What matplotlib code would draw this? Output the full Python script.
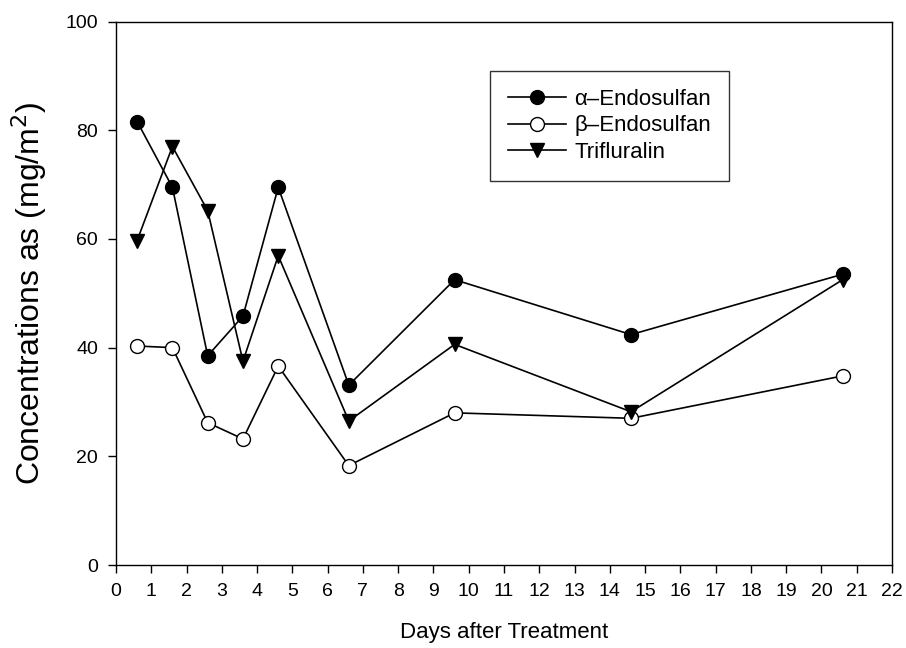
import numpy as np
import matplotlib
matplotlib.use("Agg")
import matplotlib.pyplot as plt

plt.rcParams['font.family'] = ['Liberation Sans', 'DejaVu Sans']

# Données
days = [0.6, 1.6, 2.6, 3.6, 4.6, 6.6, 9.6, 14.6, 20.6]
alpha_endosulfan = [81.6, 69.5, 38.5, 45.8, 69.5, 33.1, 52.5, 42.4, 53.5]
beta_endosulfan = [40.3, 40.0, 26.2, 23.2, 36.6, 18.3, 28.0, 27.0, 34.8]
trifluralin = [59.7, 77.0, 65.2, 37.5, 56.9, 26.5, 40.6, 28.2, 52.5]

x_ticks = list(range(0, 23))
y_ticks = [0, 20, 40, 60, 80, 100]

fig = plt.figure(figsize=(9.06, 6.48), dpi=100)
ax = fig.add_axes([0.128, 0.128, 0.8566, 0.8388])

ax.plot(days, alpha_endosulfan, color='black', lw=1.2, marker='o', ms=10,
        mfc='black', mec='black', label='\u03b1\u2013Endosulfan')
ax.plot(days, beta_endosulfan, color='black', lw=1.2, marker='o', ms=10,
        mfc='white', mec='black', mew=1.0, label='\u03b2\u2013Endosulfan')
ax.plot(days, trifluralin, color='black', lw=1.2, marker='v', ms=10,
        mfc='black', mec='black', label='Trifluralin')

ax.set_xlim(0, 22)
ax.set_ylim(0, 100)
ax.set_xticks(x_ticks)
ax.set_yticks(y_ticks)
ax.tick_params(direction='out', length=6, width=1.0, labelsize=14, pad=7)
for s in ax.spines.values():
    s.set_linewidth(1.0)

ax.set_xlabel('Days after Treatment', fontsize=16, labelpad=16)
ax.set_ylabel('Concentrations as (mg/m$^2$)', fontsize=23, labelpad=12)

leg = ax.legend(loc='upper left', bbox_to_anchor=(0.482, 0.909), fontsize=16,
                frameon=True, fancybox=False, edgecolor='black',
                borderaxespad=0, handlelength=2.6, handletextpad=0.4,
                borderpad=0.8, labelspacing=0.25)
leg.get_frame().set_linewidth(1.0)

fig.savefig('out.png', dpi=100)
plt.close(fig)
